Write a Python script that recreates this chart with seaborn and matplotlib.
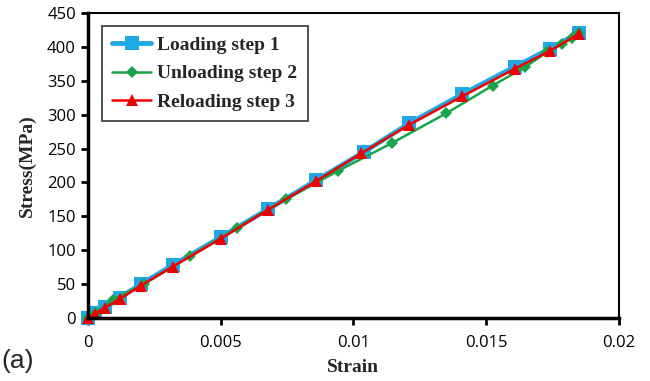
import matplotlib
matplotlib.use("Agg")
import matplotlib.pyplot as plt
import seaborn as sns
import pandas as pd

load_strain = [0, 0.00026, 0.00064, 0.0012, 0.0020, 0.0032, 0.0050, 0.0068, 0.0086, 0.0104, 0.0121, 0.0141, 0.0161, 0.0174, 0.0185]
load_stress = [0, 8, 17, 30, 50, 78, 119, 161, 203, 245, 287, 330, 371, 397, 421]

unload_strain = [0.0185, 0.01823, 0.01785, 0.01729, 0.01646, 0.01525, 0.01350, 0.01145, 0.00942, 0.00746, 0.00562, 0.00384, 0.0021, 0.00094, 0.0003, 0]
unload_stress = [420, 413, 404, 392, 370, 343, 302, 258, 217, 175, 133, 91, 50, 27, 8, 0]

reload_strain = [0, 0.00026, 0.00064, 0.0012, 0.0020, 0.0032, 0.0050, 0.0068, 0.0086, 0.0103, 0.0121, 0.0141, 0.0161, 0.0174, 0.0185]
reload_stress = [0, 6, 15, 28, 48, 76, 117, 160, 202, 243, 285, 327, 368, 394, 419]

series_names = ["Loading step 1", "Unloading step 2", "Reloading step 3"]
x_ticks = [0, 0.005, 0.01, 0.015, 0.02]
x_tick_labels = ["0", "0.005", "0.01", "0.015", "0.02"]
y_ticks = list(range(0, 451, 50))

sns.set_style("white")
plt.rcParams['font.family'] = ['DejaVu Sans']

fig = plt.figure(figsize=(6.5, 3.81), dpi=100)
ax = fig.add_axes([0.135, 0.165, 0.817, 0.801])

df_load = pd.DataFrame({"x": load_strain, "y": load_stress})
df_unload = pd.DataFrame({"x": unload_strain, "y": unload_stress})
df_reload = pd.DataFrame({"x": reload_strain, "y": reload_stress})

sns.lineplot(data=df_load, x="x", y="y", ax=ax, sort=False, color="#1ea9e6", lw=3.5,
             marker="s", markersize=10, markeredgewidth=0, label=series_names[0], clip_on=False)
sns.lineplot(data=df_unload, x="x", y="y", ax=ax, sort=False, color="#19a34a", lw=1.8,
             marker="D", markersize=6, markeredgewidth=0, label=series_names[1], clip_on=False)
sns.lineplot(data=df_reload, x="x", y="y", ax=ax, sort=False, color="#f00000", lw=1.8,
             marker="^", markersize=9, markeredgewidth=0, label=series_names[2], clip_on=False)

ax.set_xlim(0, 0.02)
ax.set_ylim(0, 450)
ax.set_xticks(x_ticks)
ax.set_xticklabels(x_tick_labels)
ax.set_yticks(y_ticks)
ax.tick_params(axis="both", direction="out", length=5, width=2, labelsize=12, colors="black",
               bottom=True, left=True)
for lab in ax.get_xticklabels() + ax.get_yticklabels():
    lab.set_fontfamily("Open Sans")
ax.tick_params(axis="x", pad=7)

for s in ["left", "bottom"]:
    ax.spines[s].set_linewidth(2.5)
    ax.spines[s].set_color("black")
for s in ["top", "right"]:
    ax.spines[s].set_linewidth(1.5)
    ax.spines[s].set_color("black")

ax.set_xlabel("Strain", fontsize=14, fontweight="bold", family="Liberation Serif", labelpad=6)
ax.set_ylabel("Stress(MPa)", fontsize=14, fontweight="bold", family="Liberation Serif", labelpad=8)

leg = ax.legend(loc="upper left", bbox_to_anchor=(0.008, 0.99), frameon=True, fancybox=False,
                prop={"family": "Liberation Serif", "weight": "bold", "size": 14},
                handlelength=2.0, borderpad=0.55, labelspacing=0.55, handletextpad=0.3)
leg.get_frame().set_edgecolor("black")
leg.get_frame().set_linewidth(1.2)

fig.text(0.002, 0.035, "(a)", fontsize=19, family="Liberation Sans")

fig.savefig("out.png", dpi=100)
